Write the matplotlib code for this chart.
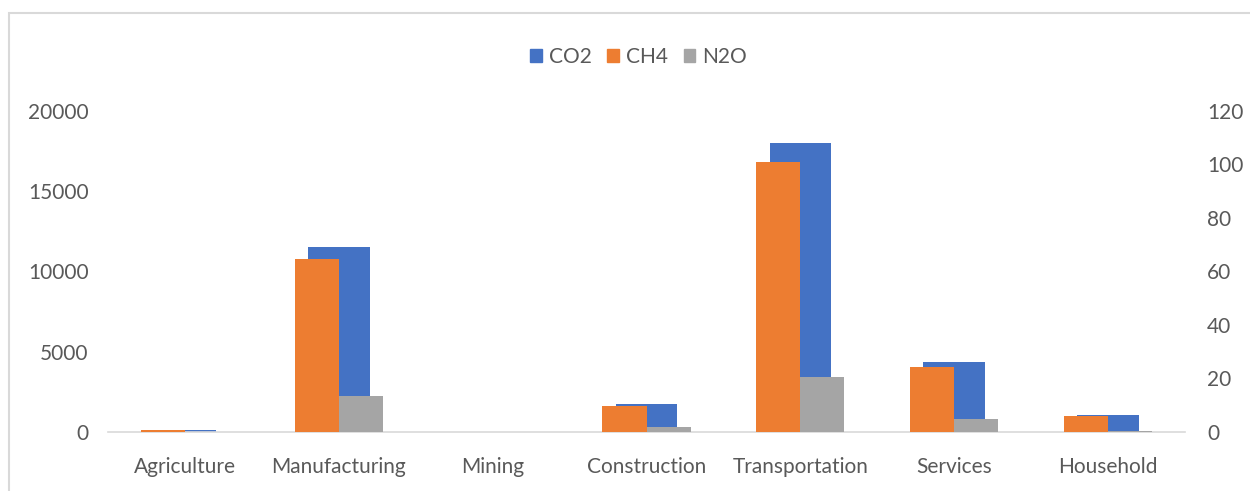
import numpy as np
import matplotlib.pyplot as plt
from matplotlib.patches import Patch, Rectangle

plt.rcParams['font.family'] = ['Lato', 'DejaVu Sans']

# data
sectors = ['Agriculture', 'Manufacturing', 'Mining', 'Construction',
           'Transportation', 'Services', 'Household']
co2 = [110, 11550, 0, 1760, 17980, 4380, 1070]      # left axis
ch4 = [0.6, 64.5, 0, 9.6, 101.0, 24.2, 6.1]        # right axis
n2o = [0.05, 13.3, 0, 1.7, 20.6, 5.0, 0.5]         # right axis

blue = '#4472C4'
orange = '#ED7D31'
gray = '#A5A5A5'
txt = '#595959'

x = np.arange(len(sectors))

fig = plt.figure(figsize=(12.5, 4.91), dpi=100)
ax = fig.add_axes([0.0864, 0.1202, 0.8616, 0.6538])
ax2 = ax.twinx()

ax.bar(x, co2, width=0.40, color=blue, zorder=2)
ax2.bar(x - 0.143, ch4, width=0.286, color=orange, zorder=2)
ax2.bar(x + 0.143, n2o, width=0.286, color=gray, zorder=2)

ax.set_xlim(-0.5, len(sectors) - 0.5)
ax.set_ylim(0, 20000)
ax2.set_ylim(0, 120)
ax.set_yticks(np.arange(0, 20001, 5000))
ax2.set_yticks(np.arange(0, 121, 20))
ax.set_xticks(x)
ax.set_xticklabels(sectors)

for a in (ax, ax2):
    for s in a.spines.values():
        s.set_visible(False)
    a.tick_params(length=0, labelsize=15, colors=txt)
ax.spines['bottom'].set_visible(True)
ax.spines['bottom'].set_color('#D9D9D9')
ax.spines['bottom'].set_linewidth(1.2)
ax.tick_params(axis='x', pad=18)
ax.tick_params(axis='y', pad=14)
ax2.tick_params(axis='y', pad=16)

handles = [Patch(color=blue, label='CO2'), Patch(color=orange, label='CH4'),
           Patch(color=gray, label='N2O')]
fig.legend(handles=handles, loc='center', bbox_to_anchor=(0.511, 0.884), ncol=3,
           frameon=False, fontsize=15, labelcolor=txt, handlelength=0.55,
           handleheight=0.6, handletextpad=0.35, columnspacing=0.75)

# chart area border (top and left visible in the reference)
fig.patches.append(Rectangle((0.0068, -0.1), 1.2, 1.073, transform=fig.transFigure,
                             fill=False, edgecolor='#D9D9D9', linewidth=1.5))

fig.savefig('out.png', dpi=100)
